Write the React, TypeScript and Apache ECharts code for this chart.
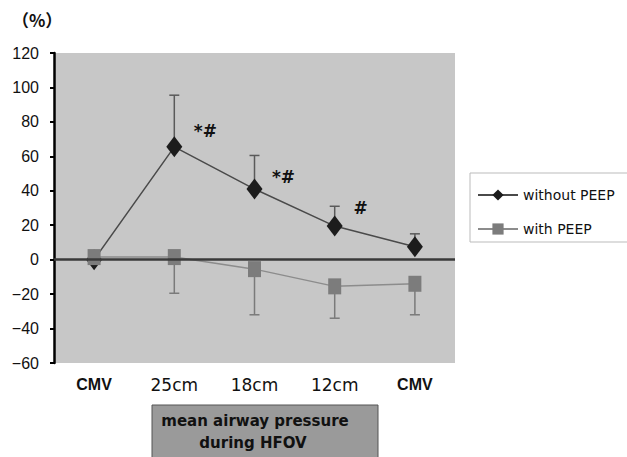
import React, { useEffect, useRef } from "react";
import * as echarts from "echarts";

const categories = ["CMV", "25cm", "18cm", "12cm", "CMV"];
const boldCategory = [true, false, false, false, true];
const withoutPeep = [0, 65.5, 41, 19.5, 7.5];
const withoutPeepErrUp = [0, 30, 19.5, 11.5, 7.5];
const withPeep = [1.5, 1.5, -5.5, -15.5, -14];
const withPeepErrDown = [0, 21, 26.5, 18.5, 18];
const annotations = ["", "*#", "*#", "#", ""];
const yMin = -60;
const yMax = 120;
const yStep = 20;

const FONT = "DejaVu Sans";
const SANS = "Liberation Sans";

export default function App() {
  const ref = useRef<HTMLDivElement>(null);
  useEffect(() => {
    document.body.style.margin = "0";
    const chart = echarts.init(ref.current!, undefined, { renderer: "svg" });
    const labelOffsets = [[0, 0], [31, -16], [29, -12], [26, -18], [0, 0]];

    const errData1 = withoutPeep.map((v, i) => [i, v, v + withoutPeepErrUp[i]]);
    const errData2 = withPeep.map((v, i) => [i, v, v - withPeepErrDown[i]]);

    const makeErr = (color: string) => (params: any, api: any) => {
      const x = api.value(0);
      const a = api.coord([x, api.value(1)]);
      const b = api.coord([x, api.value(2)]);
      if (Math.abs(a[1] - b[1]) < 1) return { type: "group", children: [] };
      const style = { stroke: color, lineWidth: 1.5 };
      return {
        type: "group",
        children: [
          { type: "line", shape: { x1: a[0], y1: a[1], x2: b[0], y2: b[1] }, style },
          { type: "line", shape: { x1: b[0] - 5, y1: b[1], x2: b[0] + 5, y2: b[1] }, style },
        ],
      };
    };

    chart.setOption({
      animation: false,
      backgroundColor: "#ffffff",
      textStyle: { fontFamily: FONT },
      grid: {
        left: 54,
        top: 53,
        right: 172,
        bottom: 94,
        show: true,
        backgroundColor: "#c7c7c7",
        borderWidth: 0,
      },
      legend: {
        left: 470,
        top: 173,
        orient: "vertical",
        itemWidth: 40,
        itemHeight: 14,
        itemGap: 20,
        padding: [15, 20, 6, 7],
        borderColor: "#bbbbbb",
        borderWidth: 1,
        textStyle: { fontFamily: FONT, fontSize: 14, color: "#111" },
        data: ["without PEEP", "with PEEP"],
      },
      xAxis: {
        type: "category",
        data: categories.map((c, i) => ({
          value: c,
          textStyle: boldCategory[i]
            ? { fontWeight: "bold", fontSize: 16, fontFamily: SANS }
            : { fontWeight: "normal", fontSize: 17, fontFamily: FONT },
        })),
        axisLine: { show: false },
        axisTick: { show: false },
        axisLabel: { margin: 13, color: "#111" },
        splitLine: { show: false },
      },
      yAxis: {
        type: "value",
        min: yMin,
        max: yMax,
        interval: yStep,
        axisLine: { show: true, lineStyle: { color: "#000", width: 2.5 } },
        axisTick: { show: true, length: 4, lineStyle: { color: "#000", width: 2 } },
        axisLabel: {
          margin: 15,
          color: "#111",
          fontSize: 16,
          fontFamily: SANS,
          formatter: (v: number) => String(v).replace("-", "\u2212"),
        },
        splitLine: { show: false },
      },
      series: [
        {
          name: "errWithout",
          type: "custom",
          z: 1,
          renderItem: makeErr("#5a5a5a"),
          data: errData1,
          silent: true,
        },
        {
          name: "errWith",
          type: "custom",
          z: 1,
          renderItem: makeErr("#7a7a7a"),
          data: errData2,
          silent: true,
        },
        {
          name: "without PEEP",
          type: "line",
          z: 3,
          symbol: "diamond",
          symbolSize: [16, 21],
          lineStyle: { color: "#4a4a4a", width: 1.5 },
          itemStyle: { color: "#1c1c1c" },
          label: { show: false, position: "inside", fontSize: 17, fontWeight: "bold", color: "#111", fontFamily: FONT },
          data: withoutPeep.map((v, i) => ({
            value: v,
            label: annotations[i]
              ? { show: true, formatter: annotations[i], offset: labelOffsets[i] }
              : { show: false },
          })),
          markLine: {
            silent: true,
            symbol: "none",
            label: { show: false },
            lineStyle: { color: "#3a3a3a", width: 2.5, type: "solid" },
            data: [{ yAxis: 0 }],
          },
        },
        {
          name: "with PEEP",
          type: "line",
          z: 4,
          symbol: "rect",
          symbolSize: [13, 16],
          lineStyle: { color: "#8c8c8c", width: 1.5 },
          itemStyle: { color: "#7c7c7c" },
          data: withPeep,
        },
      ],
      graphic: [
        {
          type: "text",
          left: 12,
          top: 11,
          style: { text: "（%）", fontSize: 17, fontWeight: "bold", fill: "#111", fontFamily: "Noto Sans CJK JP" },
        },
        {
          type: "rect",
          shape: { x: 152, y: 405, width: 226, height: 70 },
          style: { fill: "#9a9a9a", stroke: "#555", lineWidth: 1 },
        },
        {
          type: "text",
          x: 255,
          y: 421,
          style: {
            text: "mean airway pressure",
            fontSize: 15,
            fontWeight: "bold",
            fill: "#111",
            fontFamily: FONT,
            align: "center",
            verticalAlign: "middle",
          },
        },
        {
          type: "text",
          x: 253,
          y: 443,
          style: {
            text: "during HFOV",
            fontSize: 15,
            fontWeight: "bold",
            fill: "#111",
            fontFamily: FONT,
            align: "center",
            verticalAlign: "middle",
          },
        },
      ],
    });
    return () => chart.dispose();
  }, []);
  return <div ref={ref} style={{ width: 627, height: 457 }} />;
}
